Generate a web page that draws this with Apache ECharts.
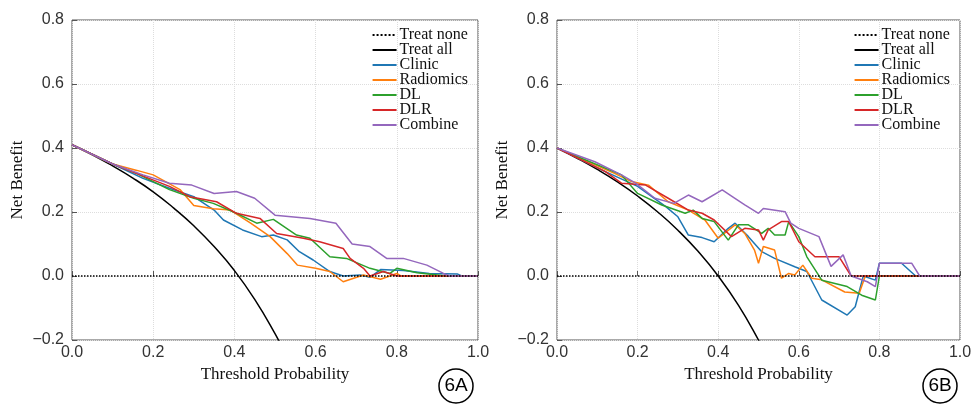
<!DOCTYPE html>
<html><head><meta charset="utf-8">
<script src="https://cdn.jsdelivr.net/npm/echarts@6/dist/echarts.min.js"></script>
<style>html,body{margin:0;padding:0;background:#fff}#c{width:977px;height:417px}</style>
</head><body><div id="c"></div>
<script>
const names=['Treat none','Treat all','Clinic','Radiomics','DL','DLR','Combine'];
const colors=['#000','#000','#1f77b4','#ff7f0e','#2ca02c','#d62728','#9467bd'];
const xTicks=[0,0.2,0.4,0.6,0.8,1.0];
const yTicks=[-0.2,0,0.2,0.4,0.6,0.8];
const treatNone=[[0,0],[1,0]];
const treatAllA=[[0,0.41],[0.05,0.379],[0.1,0.344],[0.15,0.306],[0.2,0.263],[0.25,0.213],[0.3,0.157],[0.35,0.092],[0.4,0.017],[0.45,-0.073],[0.5,-0.18],[0.52,-0.23]];
const treatAllB=[[0,0.4],[0.05,0.368],[0.1,0.333],[0.15,0.294],[0.2,0.25],[0.25,0.2],[0.3,0.143],[0.35,0.077],[0.4,0],[0.45,-0.091],[0.5,-0.2],[0.52,-0.25]];
const clinicA=[[0,0.41],[0.1,0.35],[0.175,0.305],[0.24,0.274],[0.3,0.248],[0.35,0.206],[0.373,0.175],[0.42,0.144],[0.467,0.123],[0.496,0.128],[0.53,0.113],[0.56,0.076],[0.594,0.05],[0.635,0.014],[0.668,0],[0.71,0.003],[0.734,-0.004],[0.76,0.02],[0.816,0.017],[0.88,0.008],[0.95,0.006],[0.96,0],[1,0]];
const radiomicsA=[[0,0.41],[0.1,0.35],[0.16,0.33],[0.2,0.316],[0.266,0.27],[0.3,0.22],[0.348,0.21],[0.39,0.206],[0.44,0.165],[0.488,0.123],[0.53,0.07],[0.555,0.034],[0.6,0.024],[0.635,0.014],[0.668,-0.018],[0.718,0.003],[0.76,-0.01],[0.8,0.008],[0.81,0],[1,0]];
const dlA=[[0,0.41],[0.1,0.35],[0.16,0.32],[0.24,0.27],[0.3,0.243],[0.348,0.227],[0.405,0.196],[0.455,0.165],[0.496,0.177],[0.553,0.128],[0.586,0.118],[0.635,0.06],[0.676,0.055],[0.734,0.024],[0.783,0.008],[0.8,0.024],[0.85,0.01],[0.9,0.003],[0.92,0],[1,0]];
const dlrA=[[0,0.41],[0.1,0.35],[0.16,0.32],[0.24,0.28],[0.29,0.248],[0.356,0.232],[0.405,0.196],[0.463,0.18],[0.504,0.133],[0.57,0.118],[0.61,0.107],[0.668,0.086],[0.685,0.055],[0.718,0.024],[0.734,0],[0.767,0.014],[0.8,0],[1,0]];
const combineA=[[0,0.41],[0.1,0.35],[0.175,0.316],[0.24,0.29],[0.295,0.284],[0.35,0.258],[0.405,0.264],[0.45,0.243],[0.5,0.19],[0.586,0.18],[0.65,0.165],[0.69,0.1],[0.734,0.092],[0.775,0.055],[0.816,0.055],[0.874,0.034],[0.915,0.008],[0.93,0],[1,0]];
const clinicB=[[0,0.4],[0.12,0.326],[0.2,0.28],[0.27,0.217],[0.3,0.185],[0.326,0.128],[0.36,0.12],[0.39,0.107],[0.425,0.149],[0.442,0.165],[0.475,0.123],[0.508,0.076],[0.54,0.055],[0.59,0.029],[0.62,0.014],[0.657,-0.075],[0.72,-0.122],[0.74,-0.096],[0.76,0],[0.79,-0.013],[0.8,0.04],[0.855,0.04],[0.89,0],[1,0]];
const radiomicsB=[[0,0.4],[0.144,0.32],[0.185,0.295],[0.227,0.284],[0.276,0.232],[0.326,0.206],[0.367,0.175],[0.4,0.118],[0.442,0.16],[0.466,0.133],[0.49,0.081],[0.5,0.04],[0.512,0.092],[0.54,0.081],[0.557,-0.007],[0.575,0.008],[0.59,0.003],[0.61,0.034],[0.632,-0.007],[0.657,-0.012],[0.714,-0.05],[0.75,-0.054],[0.765,0],[1,0]];
const dlB=[[0,0.4],[0.16,0.316],[0.2,0.258],[0.26,0.222],[0.318,0.196],[0.338,0.206],[0.36,0.18],[0.39,0.17],[0.425,0.112],[0.45,0.16],[0.475,0.16],[0.508,0.133],[0.524,0.149],[0.54,0.128],[0.566,0.128],[0.575,0.17],[0.6,0.123],[0.62,0.06],[0.657,-0.013],[0.72,-0.033],[0.756,-0.06],[0.79,-0.075],[0.8,0],[1,0]];
const dlrB=[[0,0.4],[0.12,0.326],[0.16,0.29],[0.22,0.284],[0.276,0.243],[0.326,0.206],[0.36,0.196],[0.39,0.175],[0.433,0.123],[0.466,0.149],[0.5,0.144],[0.512,0.112],[0.524,0.144],[0.557,0.17],[0.575,0.17],[0.6,0.107],[0.64,0.06],[0.7,0.06],[0.73,0],[1,0]];
const combineB=[[0,0.4],[0.094,0.357],[0.16,0.316],[0.195,0.29],[0.243,0.243],[0.29,0.227],[0.326,0.253],[0.36,0.232],[0.41,0.269],[0.435,0.248],[0.466,0.222],[0.5,0.196],[0.512,0.211],[0.566,0.201],[0.58,0.165],[0.6,0.149],[0.65,0.123],[0.68,0.03],[0.71,0.066],[0.73,0],[0.77,-0.018],[0.79,-0.033],[0.8,0.04],[0.88,0.04],[0.9,0],[1,0]];

const panels=[[treatNone,treatAllA,clinicA,radiomicsA,dlA,dlrA,combineA],[treatNone,treatAllB,clinicB,radiomicsB,dlB,dlrB,combineB]];
const gridPos=[{left:72,right:499,top:20,bottom:77},{left:557,right:17,top:20,bottom:77}];
const serif='Liberation Serif';
const xAxis=[],yAxis=[],grid=[],series=[],legend=[],graphic=[];
gridPos.forEach((g,i)=>{
  grid.push(Object.assign({show:true,borderColor:'#555',borderWidth:1},g));
  xAxis.push({type:'value',gridIndex:i,min:0,max:1,interval:0.2,name:'Threshold Probability',nameLocation:'middle',nameGap:22,
    nameTextStyle:{fontFamily:serif,fontSize:17,color:'#111'},
    axisLine:{show:false},axisTick:{show:true,inside:true,lineStyle:{color:'#555'}},
    axisLabel:{fontSize:16,color:'#333',fontFamily:'Liberation Sans',margin:5,formatter:v=>v.toFixed(1)},
    splitLine:{show:true,lineStyle:{color:'#ddd',type:'dotted'}}});
  yAxis.push({type:'value',gridIndex:i,min:-0.2,max:0.8,interval:0.2,name:'Net Benefit',nameLocation:'middle',nameGap:46,
    nameTextStyle:{fontFamily:serif,fontSize:17,color:'#111'},
    axisLine:{show:false},axisTick:{show:true,inside:true,lineStyle:{color:'#555'}},
    axisLabel:{fontSize:16,color:'#333',fontFamily:'Liberation Sans',margin:8,formatter:v=>v.toFixed(1).replace('-','\u2212')},
    splitLine:{show:true,lineStyle:{color:'#ddd',type:'dotted'}}});
  panels[i].forEach((d,k)=>{
    series.push({type:'line',name:names[k],xAxisIndex:i,yAxisIndex:i,data:d,symbol:'none',smooth:k===1,clip:true,
      lineStyle:{color:colors[k],width:1.5,type:k===0?'dotted':'solid'},itemStyle:{color:colors[k]},z:k===0?5:3});
  });
  legend.push({right:(i===0?977-478:17)+5,top:22,orient:'vertical',itemGap:-1,itemWidth:24,itemHeight:10,data:names,
    itemStyle:{opacity:0},
    textStyle:{fontFamily:serif,fontSize:16,color:'#111',padding:[0,0,0,-2]},selectedMode:false});
  const cx=i===0?456:940;
  graphic.push({type:'circle',shape:{cx:cx,cy:386,r:17},style:{fill:'#fff',stroke:'#000',lineWidth:1.5}});
  graphic.push({type:'text',x:cx,y:386,style:{text:i===0?'6A':'6B',fontSize:19,fontFamily:'Liberation Sans',fill:'#000',align:'center',verticalAlign:'middle'}});
});
const chart=echarts.init(document.getElementById('c'));
chart.setOption({animation:false,grid,xAxis,yAxis,series,legend,graphic});
</script></body></html>
